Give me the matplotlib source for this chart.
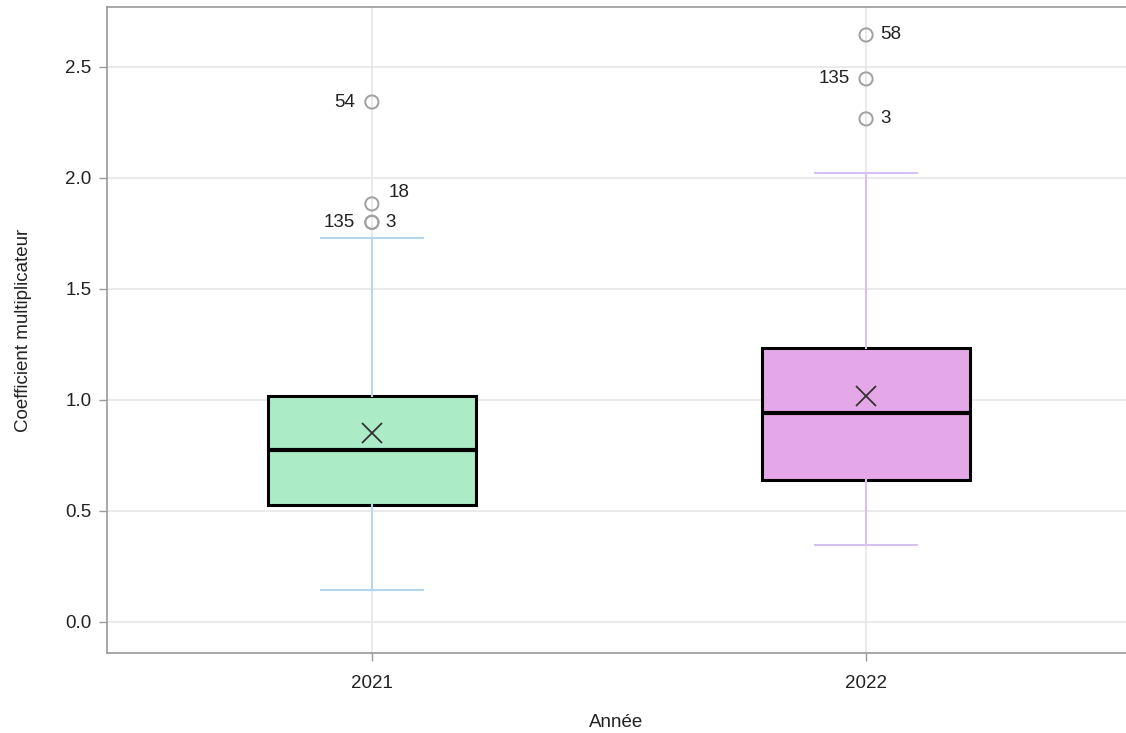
import matplotlib
matplotlib.use("Agg")
import matplotlib.pyplot as plt

plt.rcParams['font.family'] = ['Liberation Sans', 'DejaVu Sans']

# Summary statistics per year
years = ['2021', '2022']
q1 = [0.527, 0.640]
med = [0.775, 0.941]
q3 = [1.018, 1.234]
mean = [0.851, 1.018]
whislo = [0.144, 0.347]
whishi = [1.730, 2.023]

# Outliers with their observation ids
outliers_2021 = [2.342, 1.883, 1.800, 1.800]
ids_2021 = ['54', '18', '135', '3']
outliers_2022 = [2.644, 2.446, 2.266]
ids_2022 = ['58', '135', '3']

fill_colors = ['#abebc6', '#e4a8e8']
whisker_colors = ['#b4d6f0', '#d6c2f2']

stats = []
for i in range(len(years)):
    stats.append({'label': years[i], 'q1': q1[i], 'med': med[i], 'q3': q3[i],
                  'mean': mean[i], 'whislo': whislo[i], 'whishi': whishi[i],
                  'fliers': []})

fig = plt.figure(figsize=(11.26, 7.33), dpi=100)
ax = fig.add_axes([107 / 1126, 80 / 733, 1019 / 1126, 646 / 733])

for i, s in enumerate(stats):
    ax.bxp([s], positions=[i], widths=0.42, showmeans=True, showfliers=False,
           patch_artist=True,
           boxprops=dict(facecolor=fill_colors[i], edgecolor='black', linewidth=2.2),
           medianprops=dict(color='black', linewidth=3),
           whiskerprops=dict(color=whisker_colors[i], linewidth=1.5),
           capprops=dict(color=whisker_colors[i], linewidth=1.5),
           capwidths=0.205,
           meanprops=dict(marker='x', markersize=14, markeredgecolor='#333333',
                          markeredgewidth=1.3),
           zorder=3)

# Outlier circles and their labels
outliers = [outliers_2021, outliers_2022]
ids = [ids_2021, ids_2022]
label_sides = [['left', 'upright', 'left', 'right'], ['right', 'left', 'right']]
for i in range(len(years)):
    ax.scatter([i] * len(outliers[i]), outliers[i], s=90, facecolors='none',
               edgecolors='#a0a0a0', linewidths=1.4, zorder=4)
    for v, t, side in zip(outliers[i], ids[i], label_sides[i]):
        if side == 'left':
            ax.annotate(t, (i, v), xytext=(-12, 0), textcoords='offset points',
                        ha='right', va='center', fontsize=13.5, color='#222222')
        elif side == 'right':
            ax.annotate(t, (i, v), xytext=(10, 0), textcoords='offset points',
                        ha='left', va='center', fontsize=13.5, color='#222222')
        else:
            ax.annotate(t, (i, v), xytext=(12, 8), textcoords='offset points',
                        ha='left', va='center', fontsize=13.5, color='#222222')

ax.set_xlim(-0.536, 1.526)
ax.set_ylim(-0.14, 2.77)
ax.set_xticks(range(len(years)))
ax.set_xticklabels(years)
ax.set_yticks([0.0, 0.5, 1.0, 1.5, 2.0, 2.5])
ax.set_yticklabels(['0.0', '0.5', '1.0', '1.5', '2.0', '2.5'])

ax.grid(True, color='#e6e6e6', linewidth=1.2, zorder=0)
ax.set_axisbelow(True)
for side in ['top', 'bottom', 'left']:
    ax.spines[side].set_color('#999999')
    ax.spines[side].set_linewidth(1.2)
ax.spines['right'].set_visible(False)
ax.tick_params(axis='both', colors='#999999', labelcolor='#222222',
               labelsize=13.5, length=6, width=1)
ax.tick_params(axis='x', pad=10)
ax.tick_params(axis='y', pad=5)

ax.set_xlabel('Année', fontsize=13.5, color='#222222', labelpad=16)
ax.set_ylabel('Coefficient multiplicateur', fontsize=13.5, color='#222222', labelpad=24)

fig.savefig('out.png', dpi=100)
